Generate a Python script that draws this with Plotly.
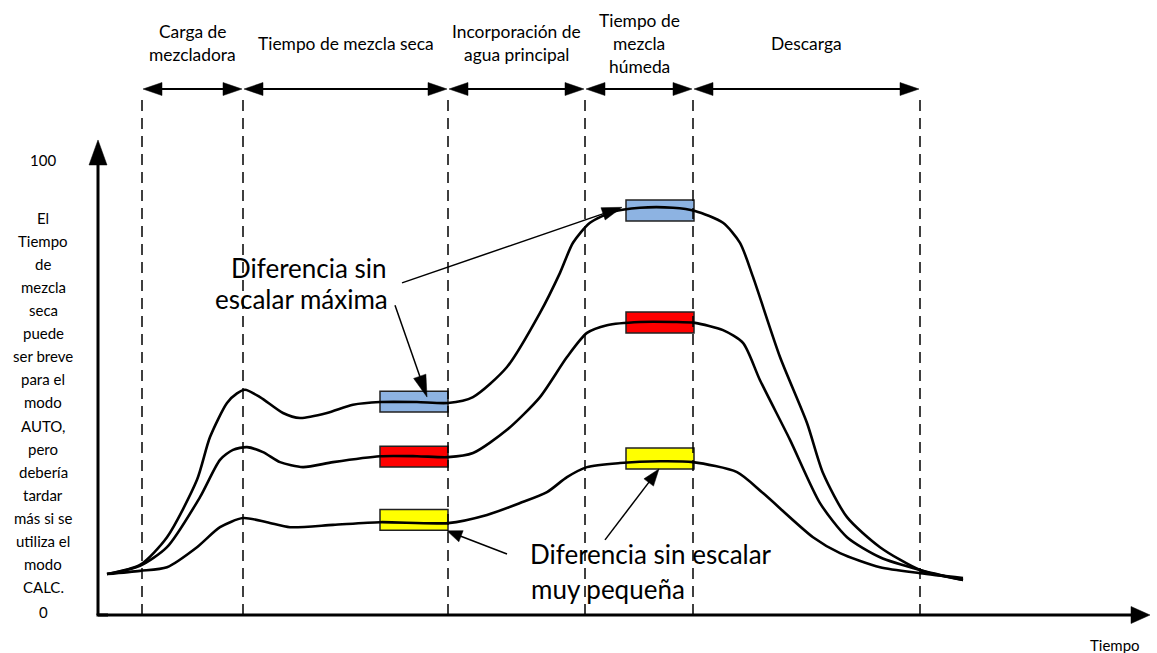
import math
import plotly.graph_objects as go

# ---------------- data ----------------
# phase boundaries on the time axis (time units)
phase_bounds = [4.4, 14.5, 35.0, 48.7, 59.5, 82.2]
phase_labels = [
    ["Carga de", "mezcladora"],
    ["Tiempo de mezcla seca"],
    ["Incorporación de", "agua principal"],
    ["Tiempo de", "mezcla", "húmeda"],
    ["Descarga"],
]

# three curves (time, value 0..100)
t_blue = [0.9, 4.2, 6.9, 9.9, 11.2, 12.9, 13.9, 14.7, 16.2, 18.5, 20.2, 22.9, 25.5, 28.2, 31.9, 35.0,
          37.5, 40.9, 44.2, 46.2, 47.5, 49.2, 51.5, 54.2, 57.5, 59.7, 62.5, 64.2, 65.5, 68.2,
          70.9, 72.5, 74.9, 78.2, 82.2, 86.5]
v_blue = [9.0, 11.0, 17.1, 29.7, 39.1, 46.6, 48.7, 49.5, 47.9, 44.4, 43.3, 44.4, 46.2, 46.8, 46.8, 46.6,
          47.9, 54.5, 66.4, 75.2, 81.8, 86.2, 88.6, 89.5, 89.5, 88.8, 86.2, 81.8, 74.3, 56.7,
          42.2, 31.2, 21.5, 14.9, 9.9, 7.7]

t_red = [0.9, 4.2, 6.9, 10.2, 12.2, 13.5, 14.9, 16.5, 18.2, 20.5, 23.5, 28.2, 31.9, 35.0, 37.5, 40.9,
         44.2, 46.9, 48.9, 50.9, 54.2, 57.5, 59.7, 62.5, 64.5, 66.2, 69.2, 72.2, 74.9, 78.2,
         82.2, 86.5]
v_red = [9.0, 10.8, 14.9, 25.9, 34.1, 36.3, 36.9, 35.8, 33.6, 32.5, 33.6, 34.9, 34.9, 34.7, 35.6, 40.7,
         47.9, 56.7, 62.0, 63.7, 64.4, 64.4, 64.2, 62.6, 59.8, 51.6, 38.5, 24.6, 17.1, 12.7,
         9.9, 7.7]

t_yellow = [0.9, 4.2, 6.9, 9.9, 12.2, 14.5, 16.9, 19.2, 23.5, 28.2, 35.0, 38.9, 42.2, 44.9, 46.9,
            48.9, 52.2, 56.2, 59.5, 63.9, 66.5, 71.5, 74.2, 78.2, 82.2, 86.5]
v_yellow = [9.0, 9.7, 10.5, 14.9, 19.3, 21.3, 20.4, 19.3, 19.8, 20.4, 20.2, 22.0, 24.6, 27.0, 30.3,
            32.5, 33.4, 33.8, 33.6, 31.4, 26.8, 17.1, 13.6, 10.5, 9.2, 8.1]

# sample windows (boxes)
box_left_t = [28.2, 35.0]
box_right_t = [52.8, 59.6]
box_left_v = [46.9, 34.8, 20.9]
box_right_v = [88.9, 64.3, 34.4]
box_half = 2.3
box_colors = ["#8DB3E2", "#FF0000", "#FFFF00"]

left_text = ["El", "Tiempo", "de", "mezcla", "seca", "puede", "ser breve", "para el", "modo",
             "AUTO,", "pero", "debería", "tardar", "más si se", "utiliza el", "modo", "CALC."]

# ---------------- layout geometry ----------------
W, H = 1157, 653
X_RANGE = [-9.8, 105.9]
Y_RANGE = [-8.352, 135.165]
KX = W / (X_RANGE[1] - X_RANGE[0])   # px per time unit
KY = H / (Y_RANGE[1] - Y_RANGE[0])   # px per value unit
FONT = "Lato"


def head_path(tip, tail, length_px, half_w_px):
    dx = (tip[0] - tail[0]) * KX
    dy = -(tip[1] - tail[1]) * KY
    n = math.hypot(dx, dy)
    ux, uy = dx / n, dy / n
    bx, by = -ux * length_px, -uy * length_px
    px_, py_ = -uy * half_w_px, ux * half_w_px
    def tod(ox, oy):
        return tip[0] + ox / KX, tip[1] - oy / KY
    b1 = tod(bx + px_, by + py_)
    b2 = tod(bx - px_, by - py_)
    base = tod(bx * 0.9, by * 0.9)
    path = f"M{tip[0]},{tip[1]} L{b1[0]},{b1[1]} L{b2[0]},{b2[1]} Z"
    return path, base


shapes = []
annotations = []


def arrow(tail, tip, width, L, hw, double=False):
    p, base = head_path(tip, tail, L, hw)
    start = tail
    if double:
        p2, base2 = head_path(tail, tip, L, hw)
        shapes.append(dict(type="path", path=p2, xref="x", yref="y", fillcolor="black",
                           line=dict(color="black", width=0.5)))
        start = base2
    shapes.append(dict(type="line", x0=start[0], y0=start[1], x1=base[0], y1=base[1],
                       xref="x", yref="y", line=dict(color="black", width=width)))
    shapes.append(dict(type="path", path=p, xref="x", yref="y", fillcolor="black",
                       line=dict(color="black", width=0.5)))


# boxes (below curves)
for vals, span in ((box_left_v, box_left_t), (box_right_v, box_right_t)):
    for v, c in zip(vals, box_colors):
        shapes.append(dict(type="rect", x0=span[0], x1=span[1], y0=v - box_half, y1=v + box_half,
                           xref="x", yref="y", fillcolor=c, layer="below",
                           line=dict(color="#222222", width=1.5)))

# dashed phase boundaries
dash_top = 113.2
for b in phase_bounds:
    shapes.append(dict(type="line", x0=b, x1=b, y0=0, y1=dash_top, xref="x", yref="y",
                       layer="below", line=dict(color="black", width=1.5, dash="11px,7px")))

# double arrows for phases
arr_v = 115.6
for i in range(len(phase_bounds) - 1):
    a, b = phase_bounds[i] + 0.1, phase_bounds[i + 1] - 0.1
    arrow((a, arr_v), (b, arr_v), 2, 19, 6.5, double=True)

# axes
arrow((0, 0), (0, 104.4), 3, 25, 9)
arrow((0, 0), (105.2, 0), 3, 19, 8.5)
shapes.append(dict(type="line", x0=-0.15, x1=1, y0=0, y1=0, xref="x", yref="y",
                   line=dict(color="black", width=3)))

# annotation arrows
arrow((30.4, 73.0), (52.4, 89.6), 1.5, 20, 6.5)
arrow((29.7, 68.1), (32.9, 47.9), 1.5, 22, 6.5)
arrow((40.9, 13.4), (34.9, 18.5), 1.5, 15, 6)
arrow((50.7, 16.5), (56.1, 32.1), 1.5, 17, 6)

# phase labels
lab_center_v = 125.7
lab_step = 23 / KY
for i, lines in enumerate(phase_labels):
    xc = (phase_bounds[i] + phase_bounds[i + 1]) / 2
    n = len(lines)
    for j, txt in enumerate(lines):
        y = lab_center_v - (j - (n - 1) / 2) * lab_step
        annotations.append(dict(x=xc, y=y, text=txt, showarrow=False, xref="x", yref="y",
                                xanchor="center", yanchor="middle",
                                font=dict(family=FONT, size=17.4, color="black")))

# left column text
left_x = -5.5
annotations.append(dict(x=left_x, y=100, text="100", showarrow=False, xref="x", yref="y",
                        xanchor="center", yanchor="middle",
                        font=dict(family=FONT, size=15, color="black")))
annotations.append(dict(x=left_x, y=0.7, text="0", showarrow=False, xref="x", yref="y",
                        xanchor="center", yanchor="middle",
                        font=dict(family=FONT, size=15, color="black")))
top_v, step_v = 87.25, 23.06 / KY
for j, txt in enumerate(left_text):
    annotations.append(dict(x=left_x, y=top_v - j * step_v, text=txt, showarrow=False,
                            xref="x", yref="y", xanchor="center", yanchor="middle",
                            font=dict(family=FONT, size=15, color="black")))

# axis label
annotations.append(dict(x=101.7, y=-6.6, text="Tiempo", showarrow=False, xref="x", yref="y",
                        xanchor="center", yanchor="middle",
                        font=dict(family=FONT, size=15, color="black")))

# big callouts
big = 26
annotations.append(dict(x=29.1, y=76.2, text="Diferencia sin", showarrow=False, xref="x",
                        yref="y", xanchor="right", yanchor="middle",
                        font=dict(family=FONT, size=big, color="black")))
annotations.append(dict(x=29.2, y=69.4, text="escalar máxima", showarrow=False, xref="x",
                        yref="y", xanchor="right", yanchor="middle",
                        font=dict(family=FONT, size=big, color="black")))
annotations.append(dict(x=43.0, y=13.4, text="Diferencia sin escalar", showarrow=False,
                        xref="x", yref="y", xanchor="left", yanchor="middle",
                        font=dict(family=FONT, size=big, color="black")))
annotations.append(dict(x=43.1, y=5.7, text="muy pequeña", showarrow=False, xref="x",
                        yref="y", xanchor="left", yanchor="middle",
                        font=dict(family=FONT, size=big, color="black")))

fig = go.Figure()
for t, v in ((t_blue, v_blue), (t_red, v_red), (t_yellow, v_yellow)):
    fig.add_trace(go.Scatter(x=t, y=v, mode="lines", hoverinfo="skip",
                             line=dict(color="black", width=2.6, shape="spline", smoothing=0.7)))

fig.update_layout(
    width=W, height=H, margin=dict(l=0, r=0, t=0, b=0),
    paper_bgcolor="white", plot_bgcolor="white", showlegend=False,
    xaxis=dict(range=X_RANGE, visible=False, fixedrange=True),
    yaxis=dict(range=Y_RANGE, visible=False, fixedrange=True),
    shapes=shapes, annotations=annotations,
)

fig.write_html("out.html", config={"displayModeBar": False},
               post_script="document.body.style.margin='0';document.body.style.overflow='hidden';")
